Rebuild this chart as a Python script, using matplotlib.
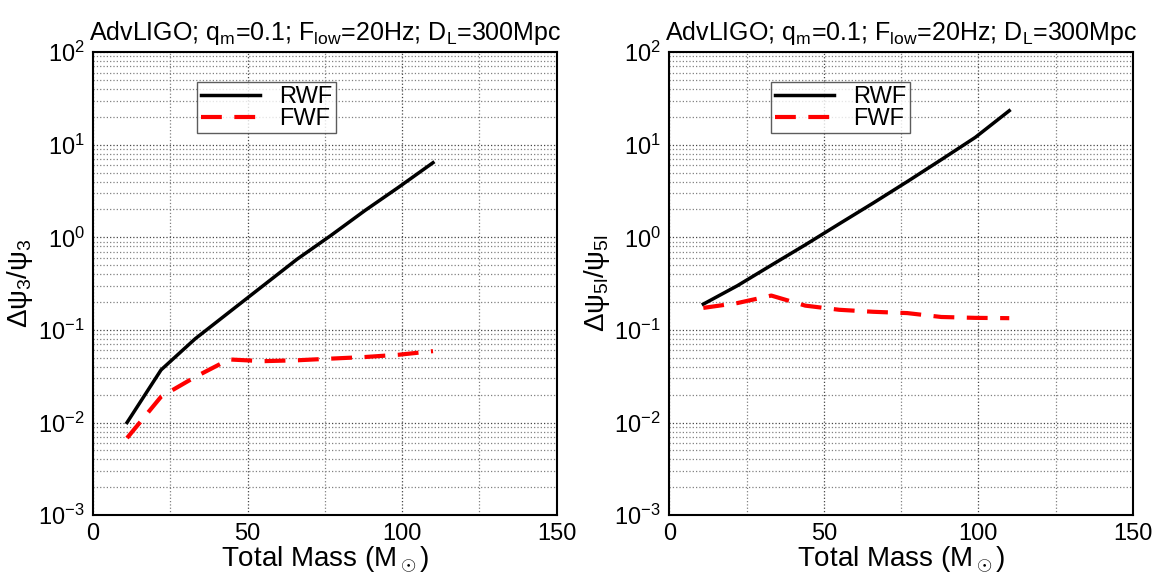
import matplotlib
matplotlib.use("Agg")
import matplotlib.pyplot as plt
import matplotlib.ticker as tkr
import numpy as np

plt.rcParams['font.family'] = ['Liberation Sans', 'DejaVu Sans']
plt.rcParams['mathtext.fontset'] = 'custom'
plt.rcParams['mathtext.rm'] = 'Liberation Sans'
plt.rcParams['mathtext.it'] = 'Liberation Sans'
plt.rcParams['axes.unicode_minus'] = False

# total masses (q = 0.1)
mass = [11, 22, 33, 44, 55, 66, 77, 88, 99, 110]

# left panel: dpsi3/psi3
rwf_psi3 = [0.010, 0.037, 0.080, 0.155, 0.30, 0.58, 1.05, 1.95, 3.5, 6.4]
fwf_psi3 = [0.0068, 0.019, 0.031, 0.048, 0.046, 0.047, 0.049, 0.051, 0.054, 0.059]

# right panel: dpsi5l/psi5l
rwf_psi5l = [0.19, 0.30, 0.50, 0.83, 1.4, 2.35, 4.0, 6.9, 12.0, 23.3]
fwf_psi5l = [0.173, 0.195, 0.235, 0.183, 0.165, 0.157, 0.152, 0.138, 0.135, 0.134]

title = r'AdvLIGO; q$_\mathrm{m}$=0.1; F$_\mathrm{low}$=20Hz; D$_\mathrm{L}$=300Mpc'
ylabels = [r'$\Delta\psi_3/\psi_3$', r'$\Delta\psi_{5l}/\psi_{5l}$']
series = [(rwf_psi3, fwf_psi3), (rwf_psi5l, fwf_psi5l)]
lefts = [0.0805, 0.579]
legend_pos = [(0.225, 0.935), (0.22, 0.935)]

fig = plt.figure(figsize=(11.56, 5.73), dpi=100)

for i in range(2):
  ax = fig.add_axes([lefts[i], 0.101, 0.401, 0.808])
  rwf, fwf = series[i]
  ax.plot(mass, rwf, color='black', lw=2.5, label='RWF')
  ax.plot(mass, fwf, color='red', lw=3, ls=(0, (5, 3)), label='FWF')

  ax.set_yscale('log')
  ax.set_xlim(0, 150)
  ax.set_ylim(1e-3, 1e2)
  ax.xaxis.set_major_locator(tkr.MultipleLocator(50))
  ax.xaxis.set_minor_locator(tkr.MultipleLocator(25))
  ax.yaxis.set_major_locator(tkr.LogLocator(base=10, numticks=10))
  ax.yaxis.set_minor_locator(tkr.LogLocator(base=10, subs=np.arange(2, 10), numticks=20))
  ax.yaxis.set_minor_formatter(tkr.NullFormatter())
  ax.grid(True, which='major', color='#444444', ls=':', lw=0.9)
  ax.grid(True, which='minor', color='#808080', ls=':', lw=0.9)
  ax.tick_params(which='both', length=0, labelsize=17, pad=6)
  for s in ax.spines.values():
    s.set_linewidth(1.5)

  ax.set_title(title, fontsize=18, pad=9)
  ax.set_xlabel(r'Total Mass (M$_\odot$)', fontsize=20, labelpad=-1)
  ax.set_ylabel(ylabels[i], fontsize=20, labelpad=2)

  leg = ax.legend(loc='upper left', bbox_to_anchor=legend_pos[i], fontsize=17,
                  frameon=True, fancybox=False, edgecolor='#333333',
                  handlelength=2.5, borderpad=0.15, labelspacing=0.0,
                  handletextpad=0.8, borderaxespad=0)
  leg.get_frame().set_linewidth(1.0)

fig.savefig('out.png', dpi=100)
